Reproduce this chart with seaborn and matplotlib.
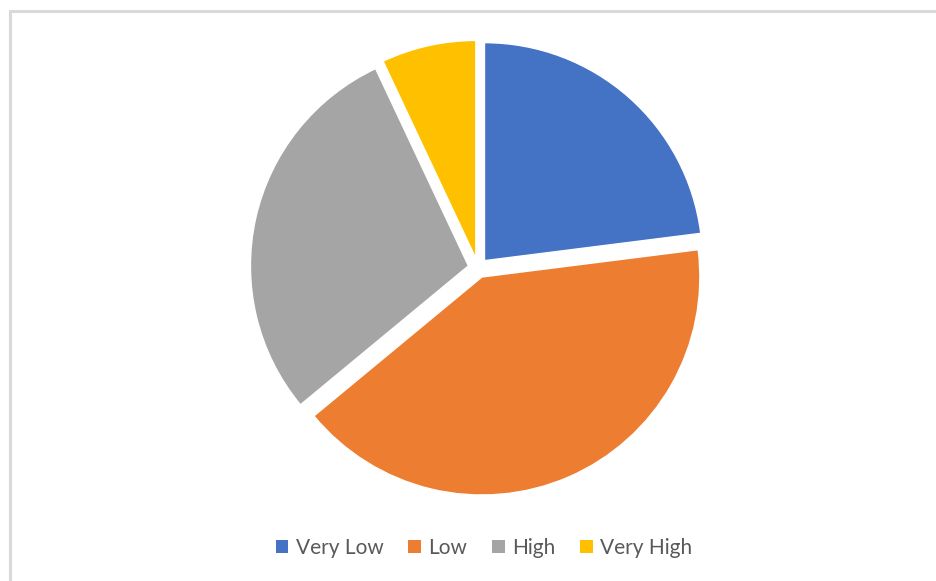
import numpy as np
import pandas as pd
import matplotlib
matplotlib.use('Agg')
import matplotlib.pyplot as plt
import seaborn as sns
from matplotlib.patches import Patch
from matplotlib.lines import Line2D

labels = ['Very Low', 'Low', 'High', 'Very High']
shares = [23, 41, 29, 7]
colors = ['#4472C4', '#ED7D31', '#A5A5A5', '#FFC000']

df = pd.DataFrame({'level': labels, 'share': shares})

sns.set_theme(style='white')
plt.rcParams['font.family'] = ['Lato', 'DejaVu Sans']

W, H = 937, 581
fig = plt.figure(figsize=(W / 100, H / 100), dpi=100)

# chart border: only top and left edges show
fig.add_artist(Line2D([10.5 / W, 1], [1 - 11 / H, 1 - 11 / H], transform=fig.transFigure,
                      color='#d9d9d9', linewidth=2.2))
fig.add_artist(Line2D([10.5 / W, 10.5 / W], [0, 1 - 11 / H], transform=fig.transFigure,
                      color='#d9d9d9', linewidth=2.2))

# pie: centre ~ (478, 268) px, radius ~ 218 px
r = 218
lim = 1.18
half = r * lim
cx, cy = 478, H - 268
ax = fig.add_axes([(cx - half) / W, (cy - half) / H, 2 * half / W, 2 * half / H])
ax.pie(df['share'], colors=colors, startangle=90, counterclock=False,
       explode=[0.045] * 4, radius=1,
       wedgeprops=dict(edgecolor='white', linewidth=1))
ax.set_xlim(-lim, lim)
ax.set_ylim(-lim, lim)
ax.set_aspect('equal')
ax.axis('off')

handles = [Patch(facecolor=c, edgecolor='none', label=l) for c, l in zip(colors, labels)]
fig.legend(handles=handles, loc='center', bbox_to_anchor=(484 / W, 1 - 548 / H), ncol=4,
           frameon=False, fontsize=15, handlelength=0.6, handleheight=0.6,
           handletextpad=0.35, columnspacing=1.2, labelcolor='#595959')

fig.savefig('out.png', dpi=100)
